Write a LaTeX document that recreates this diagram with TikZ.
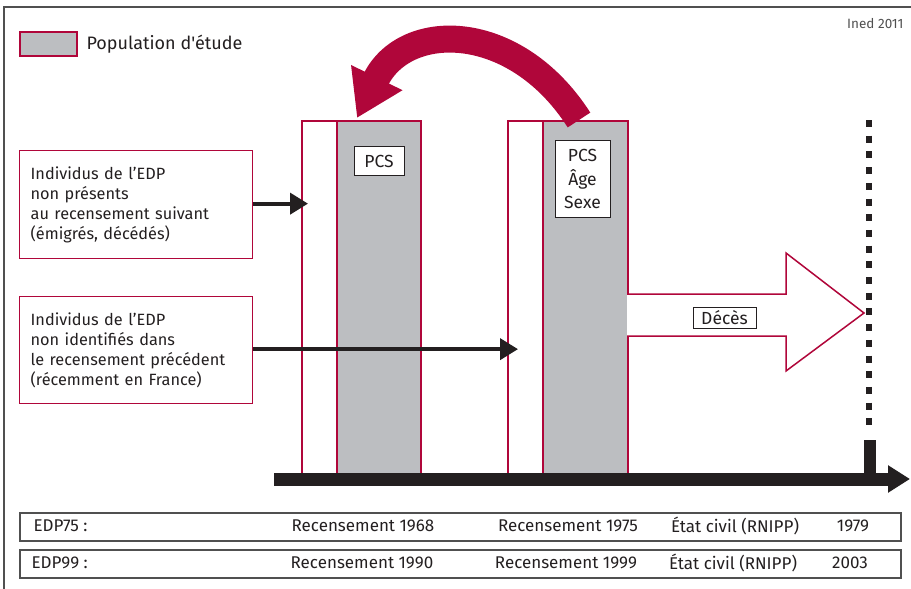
\documentclass[tikz,border=0pt]{standalone}
\usepackage{fontspec}
\setmainfont{Fira Sans}[Ligatures=TeXOff]
\usepackage{tikz}
\usetikzlibrary{arrows.meta}
\usetikzlibrary{positioning}
\usetikzlibrary{calc}
\definecolor{inedred}{HTML}{B0063A}
\definecolor{inedgray}{HTML}{BCBEC1}
\definecolor{inedblack}{HTML}{231F20}
\definecolor{framegray}{HTML}{505050}

\begin{document}
\begin{tikzpicture}[x=1pt,y=-1pt,
                    column/.style={draw=inedred, line width=2pt, inner sep=0pt,
                                   minimum height=353pt, anchor=north west},
                    infobox/.style={draw=inedred, line width=1.3pt, anchor=north west,
                                    minimum width=233pt, text width=211pt, inner xsep=11pt,
                                    align=left, font=\fontsize{16.3}{20}\selectfont, text=inedblack},
                    tag/.style={draw=inedblack, line width=1pt, fill=white, inner sep=0pt,
                                align=center, font=\fontsize{17.5}{23.5}\selectfont, text=inedblack},
                    row/.style={draw=framegray, line width=1.5pt, anchor=north west,
                                minimum width=881pt, minimum height=28pt, inner sep=0pt},
                    rowtext/.style={font=\fontsize{17}{19}\selectfont, text=inedblack},
                    blackarrow/.style={draw=inedblack, line width=4pt,
                                       -{Triangle[length=18pt,width=21pt]}}]
    \useasboundingbox (0,0) rectangle (911,589);
    % cadre
    \draw[framegray, line width=1.2pt] (911,7) -- (4,7) -- (4,589);
    \node[anchor=east, font=\fontsize{13.5}{15}\selectfont, text=framegray] (ined) at (907,24) {Ined 2011};

    % legende
    \node[draw=inedred, fill=inedgray, line width=2pt, anchor=north west,
          minimum width=57pt, minimum height=24pt] (legend) at (19,31) {};
    \node[right=5pt of legend, font=\fontsize{18}{20}\selectfont, text=inedblack] (legendtext) {Population d'étude};

    % recensements
    \node[column, minimum width=35pt] (col1w) at (301,120) {};
    \node[column, minimum width=84pt, fill=inedgray] (col1g) at (336,120) {};
    \node[column, minimum width=35pt] (col2w) at (507,120) {};
    \node[column, minimum width=85pt, fill=inedgray] (col2g) at (542,120) {};
    \node[tag, below=26pt of col1g.north, minimum width=50pt, minimum height=29pt] (pcs1) {PCS};
    \node[tag, below=20pt of col2g.north, xshift=-3pt, minimum width=55pt, minimum height=77pt] (pcs2) {PCS\\Âge\\Sexe};

    % fleche courbe
    \draw[inedred, line width=27pt, -{Triangle[length=45pt,width=54pt]}]
        ($(col2g.north west)+(37,0)$) .. controls (515,20) and (405,20) .. ($(col1g.north west)+(21,-2)$);

    % individus hors champ
    \node[infobox, minimum height=108pt] (lost) at (19,150)
        {Individus de l’EDP\\non présents\\au recensement suivant\\(émigrés, décédés)};
    \node[infobox, minimum height=107pt] (new) at (19,296)
        {Individus de l’EDP\\non identifiés dans\\le recensement précédent\\(récemment en France)};
    \coordinate (lostend) at ($(col1w.west |- lost.east)+(7,-1)$);
    \coordinate (newend) at ($(col2w.west |- new.east)+(11,-1)$);
    \draw[blackarrow] ($(lost.east)+(0,-1)$) -- (lostend);
    \draw[blackarrow] ($(new.east)+(0,-1)$) -- (newend);

    % deces
    \draw[inedred, line width=1.5pt, fill=white]
        (627,294) -- (786,294) -- (786,253) -- (864,313) -- (786,371) -- (786,336) -- (627,336);
    \node[tag, minimum width=63pt, minimum height=21pt] (deces) at (724.5,317.5) {Décès};
    \draw[inedblack, line width=6pt, dash pattern=on 7pt off 8.7pt] (869,120) -- (869,433);
    \draw[inedblack, line width=12pt] (870,440) -- (870,474);

    % axe du temps
    \draw[inedblack, line width=13pt, -{Triangle[length=22pt,width=26pt]}] (274,479) -- (910,479);

    % tableau
    \node[row] (edp75) at (19,512) {};
    \node[row] (edp99) at (19,549) {};
    \node[rowtext, anchor=west] at (30,526) {EDP75 :};
    \node[rowtext] at (363,526) {Recensement 1968};
    \node[rowtext] at (568,526) {Recensement 1975};
    \node[rowtext] at (735,526) {État civil (RNIPP)};
    \node[rowtext] at (853,526) {1979};
    \node[rowtext, anchor=west] at (28,563) {EDP99 :};
    \node[rowtext] at (362,563) {Recensement 1990};
    \node[rowtext] at (566,563) {Recensement 1999};
    \node[rowtext] at (733,563) {État civil (RNIPP)};
    \node[rowtext] at (850,563) {2003};
\end{tikzpicture}
\end{document}
